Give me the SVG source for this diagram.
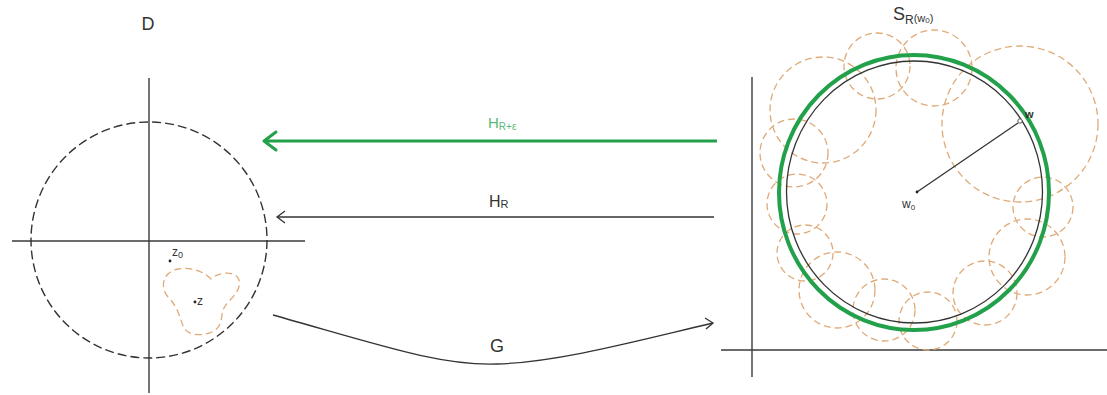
<svg xmlns="http://www.w3.org/2000/svg" width="1107" height="395" viewBox="0 0 1107 395">
<defs>
<style>
.ax{stroke:#3a3a3a;stroke-width:1.4;fill:none}
.blk{stroke:#333;stroke-width:1.3;fill:none}
.dsh{stroke:#333;stroke-width:1.4;fill:none;stroke-dasharray:9 4}
.or{stroke:#dfaa78;stroke-width:1.3;fill:none;stroke-dasharray:7 4}
.grn{stroke:#22a04a;fill:none}
text{font-family:"Liberation Sans",Arial,sans-serif;fill:#333}
</style>
</defs>
<rect width="1107" height="395" fill="#fff"/>

<g id="disc-D">
<text x="148" y="30" font-size="18" text-anchor="middle">D</text>
<line class="ax" x1="149" y1="78" x2="149" y2="393"/>
<line class="ax" x1="12" y1="241" x2="305" y2="241"/>
<circle class="dsh" cx="149" cy="240" r="118"/>
<path class="or" d="M168,297 C160,288 162,272 178,269 C190,267 202,270 211,279 C218,272 236,270 239,280 C242,292 228,300 224,308 C220,316 224,326 212,332 C200,337 186,335 183,326 C180,318 178,307 168,297 Z"/>
<circle cx="170" cy="261" r="1.4" fill="#222"/>
<text x="172" y="256" font-size="12">z<tspan font-size="9" dy="2">0</tspan></text>
<circle cx="195" cy="302" r="1.4" fill="#222"/>
<text x="197" y="305" font-size="12">z</text>
</g>

<g id="plane-S">
<line class="ax" x1="752" y1="77" x2="752" y2="377"/>
<line class="ax" x1="721" y1="350" x2="1107" y2="350"/>
<g id="cover-circles">
<circle class="or" cx="823" cy="110" r="53"/>
<circle class="or" cx="877" cy="66" r="33"/>
<circle class="or" cx="934" cy="68" r="38"/>
<circle class="or" cx="1020" cy="124" r="78"/>
<circle class="or" cx="1043" cy="207" r="30"/>
<circle class="or" cx="1027" cy="257" r="38"/>
<circle class="or" cx="985" cy="293" r="32"/>
<circle class="or" cx="928" cy="321" r="29"/>
<circle class="or" cx="884" cy="310" r="31"/>
<circle class="or" cx="837" cy="290" r="38"/>
<circle class="or" cx="805" cy="253" r="28"/>
<circle class="or" cx="797" cy="204" r="30"/>
<circle class="or" cx="794" cy="153" r="34"/>
</g>
<ellipse class="grn" stroke-width="4" cx="914" cy="192.5" rx="135" ry="137.5"/>
<ellipse stroke="#333" stroke-width="1.3" fill="none" cx="914.5" cy="192" rx="128" ry="131"/>
<line class="blk" x1="917" y1="192" x2="1018" y2="123"/>
<circle cx="917" cy="192" r="1.4" fill="#222"/>
<circle cx="1020" cy="121" r="2.2" fill="#fff" stroke="#555" stroke-width="1"/>
<text x="1025" y="118" font-size="11" font-weight="bold">w</text>
<text x="902" y="208" font-size="12">w<tspan font-size="8" dy="2">0</tspan></text>
<text x="893" y="20" font-size="18">S<tspan font-size="12" dy="4">R</tspan><tspan font-size="11" dy="-2">(w</tspan><tspan font-size="8" dy="1">0</tspan><tspan font-size="11" dy="-1">)</tspan></text>
</g>

<g id="connectors">
<g id="arrow-HRe">
<line class="grn" stroke-width="3" x1="717" y1="141" x2="265" y2="141"/>
<polyline class="grn" stroke-width="3" stroke-linecap="round" stroke-linejoin="round" points="276,132 264,141 276,150"/>
<text x="488" y="128" font-size="15" style="fill:#5cb87a">H<tspan font-size="10" dy="2">R+ε</tspan></text>
</g>
<g id="arrow-HR">
<line class="blk" x1="714" y1="217" x2="277" y2="217"/>
<polyline class="blk" points="285,211 277,217 285,223"/>
<text x="489" y="207" font-size="16">H<tspan font-size="11" dy="1">R</tspan></text>
</g>
<g id="arrow-G">
<path class="blk" d="M273,315 C380,345 440,366 497,364 C560,362 640,340 713,323"/>
<polyline class="blk" points="705,318 713,323 706,329"/>
<text x="497" y="352" font-size="18" text-anchor="middle">G</text>
</g>
</g>
</svg>
